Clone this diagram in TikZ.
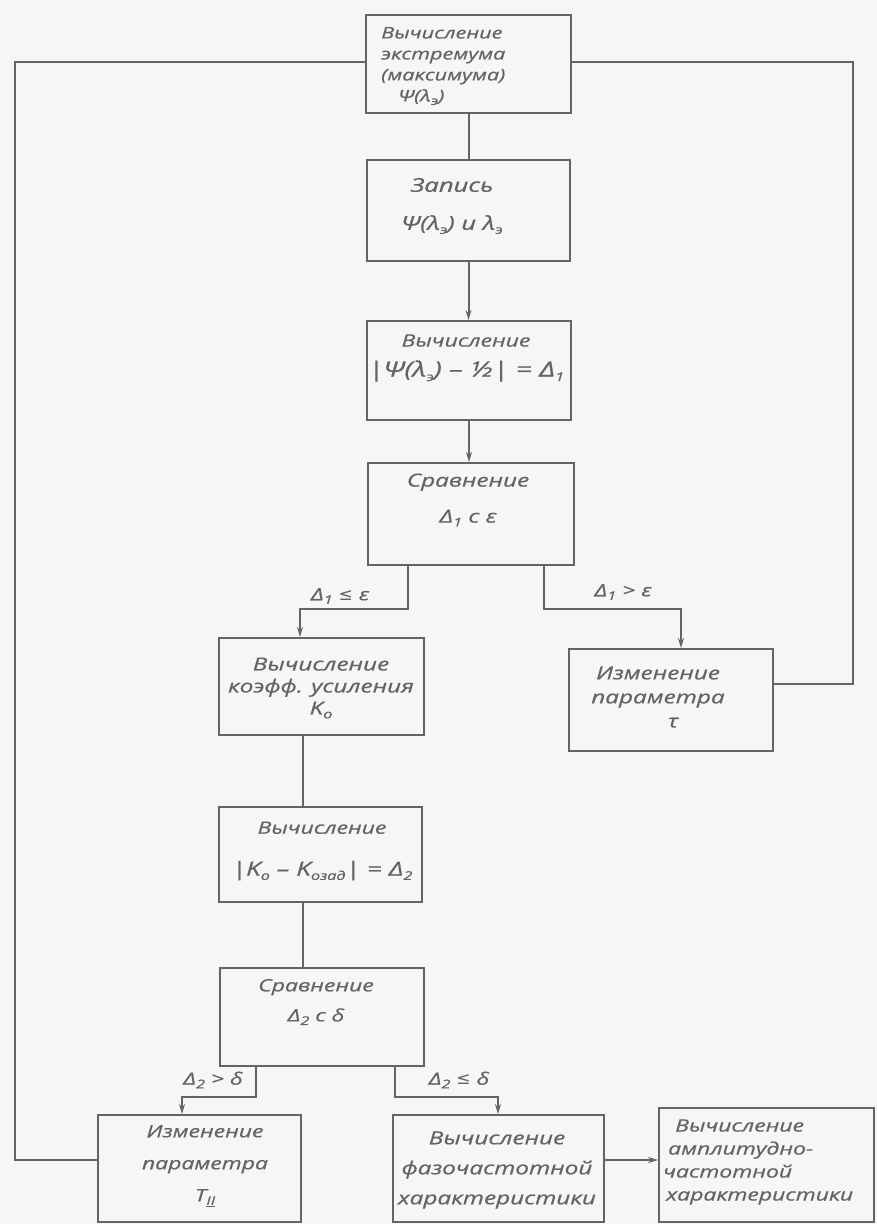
\documentclass[tikz,border=0pt]{standalone}
\usepackage{fontspec}
\setmainfont{Open Sans}[FakeStretch=1.35, FakeBold=0.7]
\newfontfamily\symf{DejaVu Sans}
\usetikzlibrary{arrows.meta}
\definecolor{ink}{HTML}{646464}
\definecolor{paper}{HTML}{F6F6F6}
\newcommand\lo[1]{\raisebox{-0.4ex}{\fontsize{12}{12}\selectfont #1}}
\newcommand\fs[2]{\fontsize{#1}{#2}\selectfont}
\tikzset{
  box/.style={draw=ink, line width=2pt, inner sep=0pt},
  txt/.style={text=ink, inner sep=0pt, align=center, font=\itshape\fs{17}{24}},
  conn/.style={draw=ink, line width=2pt},
  arr/.style={conn, -{Stealth[length=10pt,width=6pt]}},
  lbl/.style={text=ink, inner sep=1pt, font=\itshape\fs{17}{18}}
}
\begin{document}
\begin{tikzpicture}[x=1pt,y=-1pt]
\useasboundingbox (0,0) rectangle (877,1224);
\fill[paper] (0,0) rectangle (877,1224);

% boxes
\node[box, minimum width=205pt, minimum height=98pt]  (b1)  at (468.5,64)    {};
\node[box, minimum width=203pt, minimum height=101pt] (b2)  at (468.5,210.5) {};
\node[box, minimum width=204pt, minimum height=99pt]  (b3)  at (469,370.5)   {};
\node[box, minimum width=206pt, minimum height=102pt] (b4)  at (471,514)     {};
\node[box, minimum width=205pt, minimum height=97pt]  (b5)  at (321.5,686.5) {};
\node[box, minimum width=204pt, minimum height=102pt] (b6)  at (671,700)     {};
\node[box, minimum width=203pt, minimum height=95pt]  (b7)  at (320.5,854.5) {};
\node[box, minimum width=204pt, minimum height=98pt]  (b8)  at (322,1017)    {};
\node[box, minimum width=203pt, minimum height=107pt] (b9)  at (199.5,1168.5) {};
\node[box, minimum width=211pt, minimum height=107pt] (b10) at (498.5,1168.5) {};
\node[box, minimum width=215pt, minimum height=114pt] (b11) at (766.5,1165)  {};

% texts
\node[txt, anchor=west, align=left, font=\itshape\fs{16}{21}] (t1) at (381,66)
  {Вычисление\\экстремума\\(максимума)\\\hspace*{17pt}Ψ(λ\lo{э})};
\node[txt, font=\itshape\fs{19}{38}] (t2) at (452,206) {Запись\\Ψ(λ\lo{э}) и λ\lo{э}};
\node[txt, font=\itshape\fs{17}{30}] (t3) at (466,358) {Вычисление\\\fs{21}{30}|Ψ(λ\lo{э}) – ½| = Δ\lo{1}};
\node[txt, font=\itshape\fs{18}{36}] (t4) at (468,500) {Сравнение\\Δ\lo{1} с ε};
\node[txt, font=\itshape\fs{18}{22}] (t5) at (321,688) {Вычисление\\коэфф. усиления\\K\lo{o}};
\node[txt, font=\itshape\fs{18}{24}] (t6) at (658,697) {Изменение\\параметра\\\hspace*{30pt}τ};
\node[txt, font=\itshape\fs{17}{42}] (t7) at (322,851) {Вычисление\\\fs{19.5}{42}|K\lo{o} – K\lo{oзад}| = Δ\lo{2}};
\node[txt, font=\itshape\fs{17}{30}] (t8) at (316,1002) {Сравнение\\Δ\lo{2} с δ};
\node[txt, font=\itshape\fs{17}{32}] (t9) at (205,1166) {Изменение\\параметра\\T\lo{\underline{II}}};
\node[txt, font=\itshape\fs{18}{30}] (t10) at (497,1170) {Вычисление\\фазочастотной\\характеристики};
\node[txt, anchor=west, align=left, font=\itshape\fs{17}{23}] (t11) at (663,1162)
  {\hspace*{12pt}Вычисление\\\hspace*{5pt}амплитудно-\\частотной\\\hspace*{3pt}характеристики};

% labels
\node[lbl] (l1) at (340,596) {Δ\lo{1} {\symf ≤} ε};
\node[lbl] (l2) at (623,592) {Δ\lo{1} > ε};
\node[lbl] (l3) at (213,1080) {Δ\lo{2} > δ};
\node[lbl] (l4) at (459,1080) {Δ\lo{2} {\symf ≤} δ};

% helper coordinates
\coordinate (k1) at (408,609);
\coordinate (k2) at (300,609);
\coordinate (k3) at (544,609);
\coordinate (k4) at (681,609);
\coordinate (r1) at (853,684);
\coordinate (r2) at (853,62);
\coordinate (q1) at (15,1160);
\coordinate (q2) at (15,62);
\coordinate (c1) at (303,0);
\coordinate (m1) at (256,1097);
\coordinate (m2) at (182,1097);
\coordinate (m3) at (395,1097);
\coordinate (m4) at (498,1097);
\coordinate (n1) at (0,1160);

% connectors
\draw[conn] (b1.south) -- (b1.south |- b2.north);
\draw[arr] (b2.south) -- (b2.south |- b3.north);
\draw[arr] (b3.south) -- (b3.south |- b4.north);
\draw[arr] (b4.south -| k1) -- (k1) -- (k2) -- (b5.north -| k2);
\draw[arr] (b4.south -| k3) -- (k3) -- (k4) -- (b6.north -| k4);
\draw[conn] (b6.east |- r1) -- (r1) -- (r2) -- (b1.east |- r2);
\draw[conn] (b5.south -| c1) -- (b7.north -| c1);
\draw[conn] (b7.south -| c1) -- (b8.north -| c1);
\draw[arr] (b8.south -| m1) -- (m1) -- (m2) -- (b9.north -| m2);
\draw[arr] (b8.south -| m3) -- (m3) -- (m4) -- (b10.north -| m4);
\draw[arr] (b10.east |- n1) -- (b11.west |- n1);
\draw[conn] (b9.west |- q1) -- (q1) -- (q2) -- (b1.west |- q2);
\end{tikzpicture}
\end{document}
